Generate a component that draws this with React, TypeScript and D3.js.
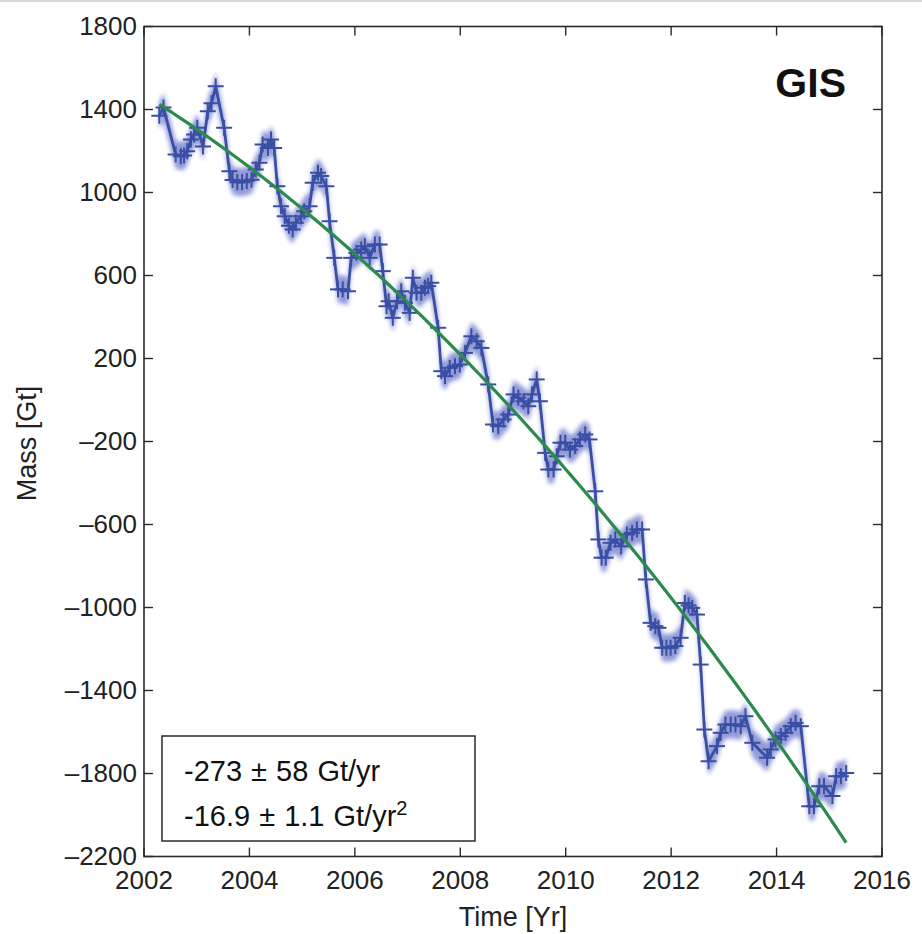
import React from 'react';
import * as d3 from 'd3';

// GRACE monthly mass anomalies, Greenland Ice Sheet (decimal year, Gt)
const decimalYear = [
  2002.29, 2002.37, 2002.6, 2002.7, 2002.76, 2002.82, 2002.89, 2002.95, 2003.01, 2003.12,
  2003.21, 2003.28, 2003.36, 2003.52, 2003.62, 2003.68, 2003.77, 2003.86, 2003.95, 2004.04,
  2004.12, 2004.19, 2004.25, 2004.35, 2004.41, 2004.47, 2004.53, 2004.6, 2004.67, 2004.75,
  2004.82, 2004.88, 2004.98, 2005.04, 2005.14, 2005.2, 2005.3, 2005.36, 2005.46, 2005.52,
  2005.61, 2005.68, 2005.77, 2005.87, 2005.93, 2006.03, 2006.12, 2006.19, 2006.28, 2006.38,
  2006.47, 2006.53, 2006.6, 2006.64, 2006.72, 2006.8, 2006.88, 2006.95, 2007.04, 2007.1,
  2007.17, 2007.26, 2007.33, 2007.39, 2007.45, 2007.58, 2007.64, 2007.71, 2007.8, 2007.9,
  2007.99, 2008.09, 2008.21, 2008.31, 2008.4, 2008.53, 2008.62, 2008.72, 2008.82, 2008.91,
  2009.01, 2009.1, 2009.2, 2009.29, 2009.36, 2009.45, 2009.51, 2009.61, 2009.67, 2009.77,
  2009.83, 2009.9, 2009.99, 2010.08, 2010.18, 2010.27, 2010.37, 2010.45, 2010.56, 2010.62,
  2010.68, 2010.76, 2010.85, 2010.94, 2011.05, 2011.16, 2011.26, 2011.35, 2011.45, 2011.52,
  2011.61, 2011.7, 2011.76, 2011.83, 2011.91, 2011.99, 2012.08, 2012.18, 2012.26, 2012.33,
  2012.4, 2012.49, 2012.56, 2012.63, 2012.71, 2012.87, 2012.94, 2013.03, 2013.13, 2013.22,
  2013.32, 2013.41, 2013.54, 2013.82, 2013.89, 2013.98, 2014.08, 2014.17, 2014.27, 2014.36,
  2014.46, 2014.62, 2014.71, 2014.81, 2014.9, 2015.06, 2015.13, 2015.22, 2015.32,
];

const massGt = [
  1370, 1410, 1183, 1175, 1178, 1199, 1255, 1280, 1312, 1222,
  1392, 1430, 1512, 1312, 1103, 1060, 1050, 1050, 1055, 1062,
  1111, 1143, 1231, 1215, 1255, 1215, 1030, 934, 886, 840,
  822, 854, 886, 910, 934, 1047, 1095, 1079, 1030, 862,
  685, 533, 533, 524, 685, 709, 725, 741, 685, 749,
  749, 621, 452, 476, 396, 476, 524, 468, 420, 589,
  517, 517, 541, 549, 565, 348, 139, 115, 155, 163,
  171, 227, 307, 283, 251, 75, -118, -126, -94, -70,
  27, 11, -6, -30, 27, 99, -6, -255, -335, -335,
  -271, -206, -206, -239, -222, -190, -166, -190, -440, -672,
  -760, -760, -688, -672, -705, -648, -640, -624, -624, -865,
  -1074, -1090, -1098, -1194, -1194, -1194, -1186, -1146, -978, -990,
  -1002, -1034, -1275, -1588, -1741, -1668, -1604, -1564, -1564, -1564,
  -1572, -1524, -1652, -1724, -1684, -1636, -1620, -1604, -1572, -1556,
  -1572, -1958, -1958, -1861, -1861, -1909, -1813, -1813, -1797,
];

// half-width of the uncertainty envelope (Gt)
const massErrGt = 68;

const xTicks = [2002, 2004, 2006, 2008, 2010, 2012, 2014, 2016];
const yTicks = [1800, 1400, 1000, 600, 200, -200, -600, -1000, -1400, -1800, -2200];

// quadratic fit: M(t) = offset + rate*(t - tRef) + 0.5*accel*(t - tRef)^2
const FIT_RATE = -273;
const FIT_RATE_ERR = 58;
const FIT_ACCEL = -16.9;
const FIT_ACCEL_ERR = 1.1;
const FIT_REF_YEAR = 2008.8;
const FIT_OFFSET = 6;
const FIT_START = 2002.29;
const FIT_END = 2015.32;

const FONT = '"Liberation Sans", Arial, Helvetica, sans-serif';
const LINE_BLUE = '#3a4fa4';
const BAND_BLUE = '#7f8ad2';
const FIT_GREEN = '#2b8a4c';
const FRAME = '#2a2a2a';

const fmtTick = (v: number) => (v < 0 ? '\u2013' + Math.abs(v) : String(v));

export default function App() {
  const width = 922;
  const height = 934;
  const left = 144;
  const right = 882;
  const top = 26.5;
  const bottom = 856.5;

  const x = d3.scaleLinear().domain([2002, 2016]).range([left, right]);
  const y = d3.scaleLinear().domain([-2200, 1800]).range([bottom, top]);

  const pts = decimalYear.map((t, i) => ({ t, m: massGt[i] }));

  const line = d3
    .line<{ t: number; m: number }>()
    .x((d) => x(d.t))
    .y((d) => y(d.m));

  const band = d3
    .area<{ t: number; m: number }>()
    .x((d) => x(d.t))
    .y0((d) => y(d.m - massErrGt))
    .y1((d) => y(d.m + massErrGt));

  const fitModel = (t: number) => {
    const dt = t - FIT_REF_YEAR;
    return FIT_OFFSET + FIT_RATE * dt + 0.5 * FIT_ACCEL * dt * dt;
  };
  const fitYears = d3.range(FIT_START, FIT_END + 1e-9, (FIT_END - FIT_START) / 120);
  const fitLine = d3
    .line<number>()
    .x((t) => x(t))
    .y((t) => y(fitModel(t)));

  const tickLen = 9;
  const arm = 8;

  return (
    <svg
      width={width}
      height={height}
      style={{ position: 'absolute', left: 0, top: 0, background: '#fff' }}
      fontFamily={FONT}
    >
      <defs>
        <filter id="soft" x="-5%" y="-5%" width="110%" height="110%">
          <feGaussianBlur stdDeviation="2" />
        </filter>
        <clipPath id="plotClip">
          <rect x={left} y={top} width={right - left} height={bottom - top} />
        </clipPath>
      </defs>
      <rect x={0} y={0} width={width} height={height} fill="#fff" />
      <rect x={0} y={0} width={width} height={2} fill="#d9d9d9" />

      <g clipPath="url(#plotClip)">
        <path d={band(pts) ?? ''} fill={BAND_BLUE} opacity={0.85} filter="url(#soft)" />
        <path d={line(pts) ?? ''} fill="none" stroke={LINE_BLUE} strokeWidth={2.8} strokeLinejoin="round" />
        {pts.map((d, i) => (
          <g key={i} stroke={LINE_BLUE} strokeWidth={2}>
            <line x1={x(d.t) - arm} x2={x(d.t) + arm} y1={y(d.m)} y2={y(d.m)} />
            <line x1={x(d.t)} x2={x(d.t)} y1={y(d.m) - arm} y2={y(d.m) + arm} />
          </g>
        ))}
        <path d={fitLine(fitYears) ?? ''} fill="none" stroke={FIT_GREEN} strokeWidth={3.2} />
      </g>

      {/* frame and inward ticks */}
      <rect x={left} y={top} width={right - left} height={bottom - top} fill="none" stroke={FRAME} strokeWidth={1.6} />
      {yTicks.map((v) => (
        <g key={'y' + v} stroke={FRAME} strokeWidth={1.4}>
          <line x1={left} x2={left + tickLen} y1={y(v)} y2={y(v)} />
          <line x1={right} x2={right - tickLen} y1={y(v)} y2={y(v)} />
        </g>
      ))}
      {xTicks.map((v) => (
        <g key={'x' + v} stroke={FRAME} strokeWidth={1.4}>
          <line x1={x(v)} x2={x(v)} y1={bottom} y2={bottom - tickLen} />
          <line x1={x(v)} x2={x(v)} y1={top} y2={top + tickLen} />
        </g>
      ))}

      {yTicks.map((v) => (
        <text key={'yl' + v} x={left - 7} y={y(v)} dy="0.33em" textAnchor="end" fontSize={26} fill="#222">
          {fmtTick(v)}
        </text>
      ))}
      {xTicks.map((v) => (
        <text key={'xl' + v} x={x(v)} y={bottom + 32} textAnchor="middle" fontSize={26} fill="#222">
          {v}
        </text>
      ))}

      <text x={(left + right) / 2} y={926} textAnchor="middle" fontSize={27} fill="#222">
        Time [Yr]
      </text>
      <text
        transform={`translate(36, ${(top + bottom) / 2 + 2}) rotate(-90)`}
        textAnchor="middle"
        fontSize={27}
        fill="#222"
      >
        Mass [Gt]
      </text>

      <text x={846} y={97} textAnchor="end" fontSize={41} fontWeight="bold" fill="#111">
        GIS
      </text>

      {/* fit summary box */}
      <rect x={162} y={736} width={313} height={105} fill="#fff" stroke={FRAME} strokeWidth={1.5} />
      <text x={184} y={781} fontSize={29} fill="#111" wordSpacing={1}>
        {`${FIT_RATE} \u00b1 ${FIT_RATE_ERR} Gt/yr`}
      </text>
      <text x={184} y={826} fontSize={29} fill="#111" wordSpacing={1}>
        {`${FIT_ACCEL} \u00b1 ${FIT_ACCEL_ERR} Gt/yr`}
        <tspan fontSize={20} dy={-11}>
          2
        </tspan>
      </text>
    </svg>
  );
}
